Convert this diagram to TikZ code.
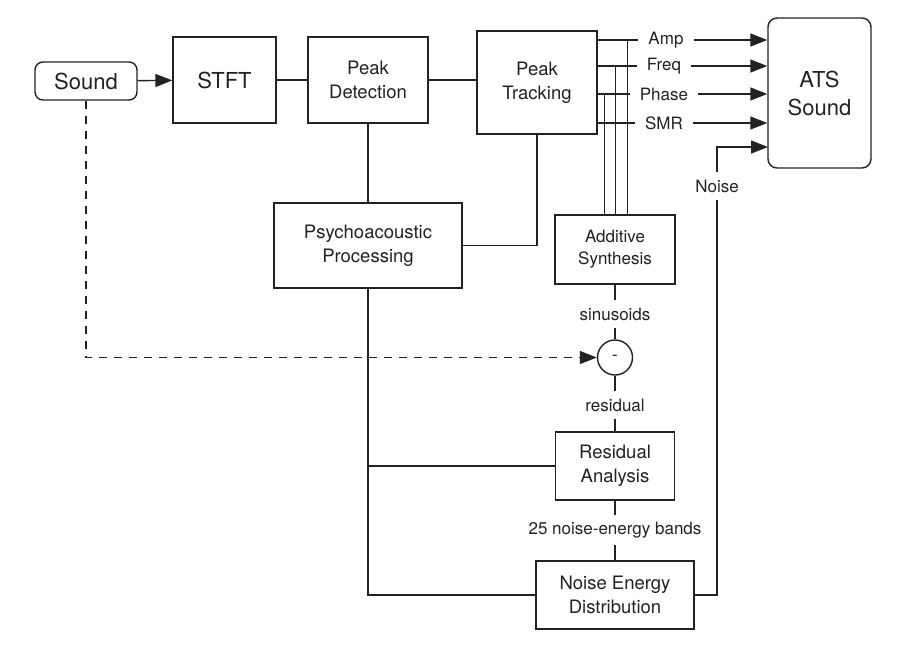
\documentclass[tikz,border=0pt]{standalone}
\usepackage{fontspec}
\setmainfont{TeX Gyre Heros}
\usetikzlibrary{arrows.meta,positioning}

\definecolor{ink}{HTML}{222222}

\tikzset{
  block/.style={draw=ink, text=ink, line width=1.4pt, align=center, inner sep=0pt,
    font=\fontsize{18.5}{24}\selectfont},
  io/.style={block, rounded corners=8pt, font=\fontsize{22}{28}\selectfont},
  lbl/.style={text=ink, inner xsep=10pt, inner ysep=7pt, font=\fontsize{17}{20}\selectfont},
  wire/.style={draw=ink, line width=1.4pt},
  flow/.style={wire, -{Triangle[length=17pt,width=13pt]}},
}

\begin{document}
\begin{tikzpicture}[x=1pt,y=-1pt]
  \useasboundingbox (0,0) rectangle (914,662);

  % analysis chain
  \node[io, minimum width=102pt, minimum height=38pt] (sound) at (86,81) {Sound};
  \node[block, minimum width=103pt, minimum height=86pt, font=\fontsize{22}{26}\selectfont] (stft) at (224.5,80) {STFT};
  \node[block, minimum width=120pt, minimum height=86pt] (peakdet) at (368,80) {Peak\\Detection};
  \node[block, minimum width=120pt, minimum height=103pt] (peaktrk) at (537,82.5) {Peak\\Tracking};
  \node[io, rounded corners=9pt, minimum width=103pt, minimum height=150pt] (ats) at (819.5,93) {ATS\\Sound};

  \node[block, minimum width=188pt, minimum height=85pt] (psycho) at (368,245.5) {Psychoacoustic\\Processing};
  \node[block, minimum width=120pt, minimum height=69pt, font=\fontsize{17}{22}\selectfont] (additive) at (615,249.5) {Additive\\Synthesis};
  \node[circle, draw=ink, text=ink, line width=1.4pt, minimum size=35pt, inner sep=0pt, font=\fontsize{17}{20}\selectfont] (minus) at (615,357.5) {-};
  \node[block, minimum width=119pt, minimum height=68pt] (resid) at (615,466) {Residual\\Analysis};
  \node[block, minimum width=158pt, minimum height=68pt] (ned) at (615,595) {Noise Energy\\Distribution};

  % labels
  \node[lbl] (amp) at (666,40) {Amp};
  \node[lbl] (freq) at (664,66) {Freq};
  \node[lbl] (phase) at (664,94) {Phase};
  \node[lbl] (smr) at (664,123) {SMR};
  \node[lbl] (noise) at (717,186) {Noise};
  \node[lbl] (sinus) at (615,314) {sinusoids};
  \node[lbl] (residlbl) at (615,405) {residual};
  \node[lbl] (bands) at (615,530) {25 noise-energy bands};
  \coordinate (noisein) at (768,147);

  % connections
  \draw[flow] (sound) -- (stft);
  \draw[wire] (stft) -- (peakdet);
  \draw[wire] (peakdet.east) -- (peakdet.east -| peaktrk.west);
  \draw[wire] (peakdet) -- (psycho);
  \draw[wire] (peaktrk) |- (psycho);

  \foreach \lab in {amp,freq,phase,smr} {
    \draw[wire] (peaktrk.east |- \lab) -- (\lab);
    \draw[flow] (\lab) -- (\lab -| ats.west);
  }
  \foreach \lab/\dx in {amp/30,freq/18,phase/7}
    \draw[wire] ([xshift=\dx pt]peaktrk.east |- \lab) -- ([xshift=\dx pt]peaktrk.east |- additive.north);

  \draw[wire] (additive) -- (sinus);
  \draw[wire] (sinus) -- (minus);
  \draw[wire] (minus) -- (residlbl);
  \draw[wire] (residlbl) -- (resid);
  \draw[wire] (resid) -- (bands);
  \draw[wire] (bands) -- (ned);

  \draw[flow, dash pattern=on 8pt off 7pt] (sound) |- (minus);

  \draw[wire] (psycho) |- (ned);
  \draw[wire] (psycho.south |- resid.west) -- (resid.west);

  \draw[wire] (ned) -| (noise);
  \draw[flow] (noise) |- (noisein);
\end{tikzpicture}
\end{document}
